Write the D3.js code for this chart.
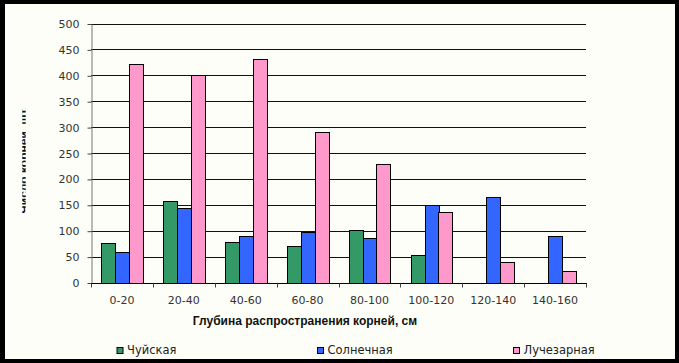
<!DOCTYPE html>
<html><head><meta charset="utf-8">
<script src="https://cdn.jsdelivr.net/npm/d3@7"></script>
<style>html,body{margin:0;padding:0;background:#000;}svg{display:block;}</style>
</head><body>
<script>
const categories = ["0-20","20-40","40-60","60-80","80-100","100-120","120-140","140-160"];
const seriesNames = ["Чуйская","Солнечная","Лучезарная"];
const chuyskaya = [76,157,78,70,102,54,0,0];
const solnechnaya = [58,143,89,97,85,150,166,90];
const luchezarnaya = [421,401,432,291,229,136,40,23];
const yTicks = [0,50,100,150,200,250,300,350,400,450,500];
const colors = ["#339966","#3366ff","#ff99cc"];
const values = [chuyskaya, solnechnaya, luchezarnaya];

const W = 679, H = 363;
const svg = d3.select("body").append("svg").attr("width", W).attr("height", H);
svg.append("rect").attr("width", W).attr("height", H).attr("fill", "#000");
svg.append("rect").attr("x",5).attr("y",4).attr("width",670).attr("height",355).attr("fill","#fdfef7");

const pLeft = 91, pRight = 586, pTop = 23.5, pBottom = 282.5;
const y = d3.scaleLinear().domain([0,500]).range([pBottom, pTop]);
const x0 = d3.scaleBand().domain(categories).range([pLeft, pRight]).padding(0);
const bw = x0.bandwidth();
const x1 = d3.scaleBand().domain(seriesNames).range([bw*0.168, bw*0.836]).padding(0);

const font = "'DejaVu Sans', Verdana, sans-serif";
const boldFont = "Arial, 'Liberation Sans', sans-serif";

// gridlines
svg.append("g").selectAll("line").data(yTicks.filter(d=>d>0)).join("line")
  .attr("x1", pLeft).attr("x2", pRight)
  .attr("y1", d=>Math.round(y(d))+0.5).attr("y2", d=>Math.round(y(d))+0.5)
  .attr("stroke", "#111").attr("stroke-width", 1);

// bars
const g = svg.append("g");
categories.forEach((c, i) => {
  seriesNames.forEach((s, j) => {
    const v = values[j][i];
    if (v <= 0) return;
    g.append("rect")
      .attr("x", Math.round(x0(c) + x1(s)) + 0.5)
      .attr("y", Math.round(y(v)) + 0.5)
      .attr("width", Math.round(x1.bandwidth()))
      .attr("height", Math.round(y(0)) - Math.round(y(v)))
      .attr("fill", colors[j]).attr("stroke", "#000").attr("stroke-width", 1);
  });
});

// y axis
const yAxis = d3.axisLeft(y).tickValues(yTicks).tickSize(4).tickPadding(8).tickSizeOuter(0);
const ya = svg.append("g").attr("transform", `translate(${pLeft+0.5},0.5)`).call(yAxis);
ya.select(".domain").attr("stroke", "#777");
ya.selectAll(".tick line").attr("stroke", "#444");
ya.selectAll(".tick text").attr("font-family", font).attr("font-size", 11).attr("fill", "#333");

// x axis
const xa = svg.append("g").attr("transform", `translate(0,${Math.round(pBottom)+0.5})`);
xa.append("line").attr("x1", pLeft).attr("x2", pRight+1).attr("stroke", "#000");
const bounds = categories.map(c => x0(c)).concat([pRight]);
xa.selectAll("line.t").data(bounds).join("line").attr("class","t")
  .attr("x1", d=>Math.round(d)+0.5).attr("x2", d=>Math.round(d)+0.5)
  .attr("y1", 0).attr("y2", 4).attr("stroke", "#444");
xa.selectAll("text").data(categories).join("text")
  .attr("x", d => x0(d) + bw/2).attr("y", 20.5)
  .attr("text-anchor", "middle").attr("font-family", font).attr("font-size", 11).attr("fill", "#333")
  .text(d => d);

// x title
svg.append("text").attr("x", 305).attr("y", 325).attr("text-anchor", "middle")
  .attr("font-family", boldFont).attr("font-size", 12).attr("font-weight", "bold").attr("fill", "#111")
  .text("Глубина распространения корней, см");

// y title (partially clipped as in reference)
svg.append("clipPath").attr("id","yc").append("rect").attr("x",22.3).attr("y",95).attr("width",3.4).attr("height",130);
svg.append("g").attr("clip-path","url(#yc)").append("text")
  .attr("transform", "translate(27.5,160) rotate(-90)").attr("text-anchor","middle")
  .attr("font-family", boldFont).attr("font-size", 12).attr("font-weight","bold").attr("fill","#111")
  .text("Число корней, шт.");

// legend
const legX = [116.5, 317, 513];
seriesNames.forEach((s, j) => {
  svg.append("rect").attr("x", legX[j]+0.5).attr("y", 347.5).attr("width", 6).attr("height", 6)
    .attr("fill", colors[j]).attr("stroke", "#000");
  svg.append("text").attr("x", legX[j] + 10.5).attr("y", 354)
    .attr("font-family", font).attr("font-size", 11.5).attr("fill", "#222").text(s);
});
</script>
</body></html>
